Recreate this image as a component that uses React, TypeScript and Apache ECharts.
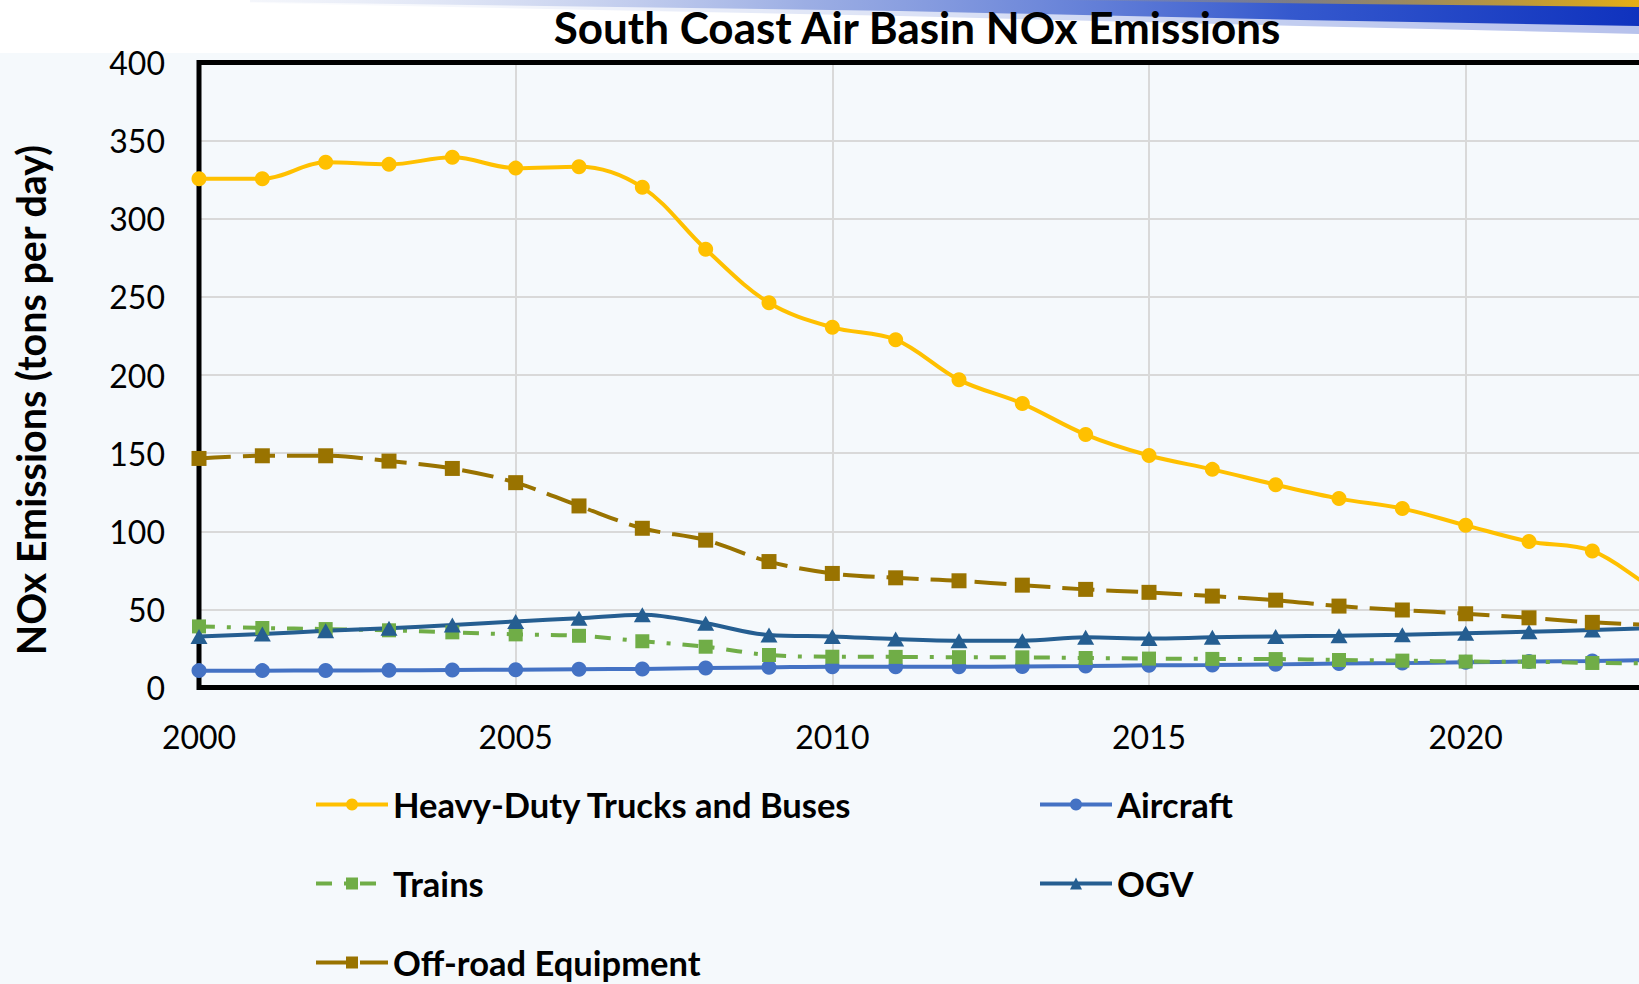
import React, { useEffect, useRef } from "react";
import * as echarts from "echarts";

const years = [2000, 2001, 2002, 2003, 2004, 2005, 2006, 2007, 2008, 2009, 2010, 2011, 2012, 2013, 2014, 2015, 2016, 2017, 2018, 2019, 2020, 2021, 2022, 2023, 2024];
const heavyDuty = [325.6, 325.6, 336.1, 334.8, 339.3, 332.4, 333.3, 320.1, 280.5, 246.2, 230.5, 222.6, 196.9, 181.7, 161.9, 148.5, 139.6, 129.8, 120.9, 114.5, 103.8, 93.4, 87.4, 63, 48];
const aircraft = [10.8, 10.8, 10.9, 11.0, 11.2, 11.4, 11.7, 11.9, 12.5, 12.9, 13.3, 13.3, 13.3, 13.4, 13.7, 14.2, 14.4, 14.8, 15.3, 15.6, 16.1, 16.6, 17.0, 17.6, 18.0];
const trains = [39.1, 38.1, 37.4, 36.6, 35.3, 34.0, 33.1, 29.6, 26.1, 20.8, 19.7, 19.6, 19.4, 19.3, 18.9, 18.5, 18.3, 18.2, 17.6, 17.2, 16.6, 16.5, 15.7, 15.5, 15.3];
const ogv = [32.7, 34.2, 36.3, 37.9, 40.0, 42.3, 44.3, 46.6, 41.1, 33.6, 32.7, 31.0, 30.0, 30.0, 32.1, 31.3, 32.1, 32.7, 33.1, 33.8, 34.7, 35.7, 36.8, 38.0, 39.0];
const offRoad = [146.6, 148.3, 148.3, 144.9, 140.2, 131.1, 116.2, 101.9, 94.3, 80.6, 73.0, 70.2, 68.3, 65.5, 62.8, 60.9, 58.5, 55.9, 52.1, 49.6, 47.2, 44.6, 41.7, 40.0, 38.5];

const seriesNames = ["Heavy-Duty Trucks and Buses", "Aircraft", "Trains", "OGV", "Off-road Equipment"];
const titleText = "South Coast Air Basin NOx Emissions";
const yAxisTitle = "NOx Emissions (tons per day)";

const FONT = "Lato, 'Open Sans', sans-serif";

export default function App() {
  const ref = useRef<HTMLDivElement>(null);
  useEffect(() => {
    const chart = echarts.init(ref.current!, null, { renderer: "svg" });
    const pairs = (vals: number[]) => years.map((y, i) => [y, vals[i]]);
    const legendText = { fontFamily: FONT, fontWeight: "bold", fontSize: 34.5, lineHeight: 30, color: "#000" };
    const mkLegend = (name: string, left: number, top: number) => ({
      data: [name],
      left,
      top,
      padding: 0,
      itemWidth: 72,
      itemHeight: 15,
      itemGap: 0,
      textStyle: legendText,
      lineStyle: { width: 4 },
    });
    chart.setOption({
      animation: false,
      backgroundColor: "#F5F9FC",
      graphic: [
        { type: "rect", shape: { x: 0, y: 0, width: 2200, height: 53 }, style: { fill: "#FFFFFF" }, z: -10 },
        {
          type: "polygon",
          shape: { points: [[250, 0], [1639, 0], [1639, 34], [1300, 26], [900, 16], [500, 8], [250, 3]] },
          style: {
            fill: new echarts.graphic.LinearGradient(0, 0, 1, 0, [
              { offset: 0, color: "rgba(200,210,235,0.2)" },
              { offset: 0.4, color: "rgba(90,120,210,0.6)" },
              { offset: 0.75, color: "rgba(30,70,200,0.9)" },
              { offset: 1, color: "rgba(15,50,190,1)" },
            ]),
          },
          z: -9,
        },
        {
          type: "polygon",
          shape: { points: [[250, 2], [900, 11], [1300, 20], [1639, 26], [1639, 36], [1300, 30], [900, 20], [500, 10], [250, 4]] },
          style: { fill: "rgba(255,255,255,0.7)" },
          z: -8,
        },
        {
          type: "polygon",
          shape: { points: [[1050, 0], [1639, 0], [1639, 7], [1350, 4], [1050, 0]] },
          style: {
            fill: new echarts.graphic.LinearGradient(0, 0, 1, 0, [
              { offset: 0, color: "rgba(230,180,40,0)" },
              { offset: 1, color: "rgba(230,175,20,1)" },
            ]),
          },
          z: -7,
        },
        {
          type: "text",
          x: 917,
          y: 27,
          style: { text: titleText, fontFamily: FONT, fontWeight: "bold", fontSize: 44, fill: "#000", textAlign: "center", textVerticalAlign: "middle" },
        },
        {
          type: "text",
          x: 30,
          y: 400,
          rotation: Math.PI / 2,
          style: { text: yAxisTitle, fontFamily: FONT, fontWeight: "bold", fontSize: 39.5, fill: "#000", textAlign: "center", textVerticalAlign: "middle" },
        },
      ],
      grid: {
        left: 199,
        top: 62.5,
        width: 1900,
        height: 625,
        show: true,
        backgroundColor: "transparent",
        borderColor: "#000",
        borderWidth: 5,
        z: 3,
      },
      xAxis: {
        type: "value",
        min: 2000,
        max: 2030,
        interval: 5,
        axisLine: { show: false },
        axisTick: { show: false },
        axisLabel: {
          margin: 33, fontFamily: FONT, fontSize: 32, color: "#000",
          formatter: (v: number) => (v <= 2020 ? String(v) : ""),
        },
        splitLine: { show: true, showMinLine: false, showMaxLine: false, lineStyle: { color: "#D9D9D9", width: 2 } },
      },
      yAxis: {
        type: "value",
        min: 0,
        max: 400,
        interval: 50,
        axisLine: { show: false },
        axisTick: { show: false },
        axisLabel: { margin: 34, fontFamily: FONT, fontSize: 32, color: "#000" },
        splitLine: { show: true, showMinLine: false, showMaxLine: false, lineStyle: { color: "#D9D9D9", width: 2 } },
      },
      legend: [
        mkLegend(seriesNames[0], 314, 787),
        mkLegend(seriesNames[1], 1038, 787),
        mkLegend(seriesNames[2], 314, 866),
        mkLegend(seriesNames[3], 1038, 866),
        mkLegend(seriesNames[4], 314, 945),
      ],
      series: [
        {
          name: seriesNames[0], type: "line", data: pairs(heavyDuty), smooth: 0.35,
          symbol: "circle", symbolSize: 15,
          lineStyle: { color: "#FFC000", width: 4 }, itemStyle: { color: "#FFC000" },
        },
        {
          name: seriesNames[1], type: "line", data: pairs(aircraft), smooth: 0.35,
          symbol: "circle", symbolSize: 15,
          lineStyle: { color: "#4472C4", width: 4 }, itemStyle: { color: "#4472C4" },
        },
        {
          name: seriesNames[2], type: "line", data: pairs(trains), smooth: 0.35,
          symbol: "rect", symbolSize: 14,
          lineStyle: { color: "#70AD47", width: 4, type: [16, 12, 4, 12] }, itemStyle: { color: "#70AD47" },
        },
        {
          name: seriesNames[3], type: "line", data: pairs(ogv), smooth: 0.35,
          symbol: "triangle", symbolSize: [17, 15],
          lineStyle: { color: "#255E91", width: 4 }, itemStyle: { color: "#255E91" },
        },
        {
          name: seriesNames[4], type: "line", data: pairs(offRoad), smooth: 0.35,
          symbol: "rect", symbolSize: 15,
          lineStyle: { color: "#997300", width: 4, type: [32, 12] }, itemStyle: { color: "#997300" },
        },
      ],
    });
    return () => chart.dispose();
  }, []);
  return (
    <div style={{ position: "fixed", left: 0, top: 0, width: 1639, height: 984, overflow: "hidden", background: "#F5F9FC" }}>
      <div ref={ref} style={{ width: 2200, height: 984 }} />
    </div>
  );
}
